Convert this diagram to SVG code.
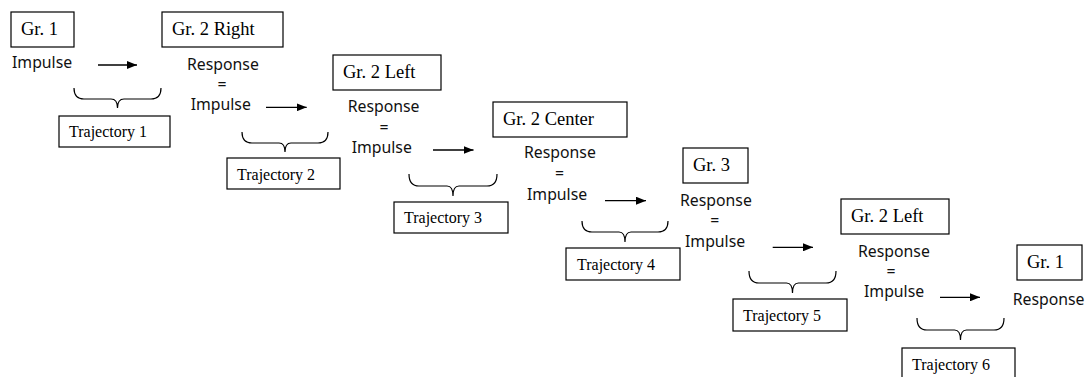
<svg xmlns="http://www.w3.org/2000/svg" width="1088" height="377" viewBox="0 0 1088 377">
<style>
.box{fill:#fff;stroke:#000;stroke-width:1.2}
.gr{font-family:"Liberation Serif",serif;font-size:18.5px;fill:#000}
.tr{font-family:"Liberation Serif",serif;font-size:16px;fill:#000}
.sn{font-family:"Noto Sans",sans-serif;font-size:15.8px;fill:#111}
.eq{font-family:"Noto Sans",sans-serif;font-size:15.8px;fill:#111;text-anchor:middle}
.arr{stroke:#000;stroke-width:1.3;fill:none;marker-end:url(#ah)}
.br{stroke:#000;stroke-width:1.2;fill:none}
</style>
<defs>
<marker id="ah" viewBox="0 0 10 8" refX="10" refY="4" markerWidth="10" markerHeight="8" markerUnits="userSpaceOnUse" orient="auto">
<path d="M0,0 L10,4 L0,8 z" fill="#000"/>
</marker>
</defs>
<rect width="1088" height="377" fill="#fff"/>
<g id="n1"><rect class="box" x="11" y="12" width="63" height="35"/><text class="gr" x="21" y="35">Gr. 1</text><text class="sn" x="12" y="68">Impulse</text></g>
<g id="n2"><rect class="box" x="162" y="12" width="121" height="35"/><text class="gr" x="172" y="35">Gr. 2 Right</text><text class="sn" x="187" y="70">Response</text><text class="eq" x="222" y="90">=</text><text class="sn" x="190.7" y="110">Impulse</text></g>
<g id="n3"><rect class="box" x="333" y="55" width="108" height="35"/><text class="gr" x="343" y="78">Gr. 2 Left</text><text class="sn" x="347.7" y="112">Response</text><text class="eq" x="384" y="132.5">=</text><text class="sn" x="351.7" y="153">Impulse</text></g>
<g id="n4"><rect class="box" x="493" y="102" width="134" height="35"/><text class="gr" x="503" y="125">Gr. 2 Center</text><text class="sn" x="524" y="158">Response</text><text class="eq" x="559.5" y="179">=</text><text class="sn" x="527" y="200">Impulse</text></g>
<g id="n5"><rect class="box" x="683" y="148" width="65" height="35"/><text class="gr" x="693" y="171">Gr. 3</text><text class="sn" x="680" y="205.7">Response</text><text class="eq" x="714.7" y="226">=</text><text class="sn" x="685" y="247">Impulse</text></g>
<g id="n6"><rect class="box" x="841" y="199" width="108" height="35"/><text class="gr" x="851" y="222">Gr. 2 Left</text><text class="sn" x="858" y="256.7">Response</text><text class="eq" x="891" y="277">=</text><text class="sn" x="864" y="297">Impulse</text></g>
<g id="n7"><rect class="box" x="1017" y="245" width="65" height="35"/><text class="gr" x="1027" y="268">Gr. 1</text><text class="sn" x="1012.7" y="305">Response</text></g>
<g id="t1"><rect class="box" x="59" y="116" width="111" height="31"/><text class="tr" x="69" y="137">Trajectory 1</text></g>
<g id="t2"><rect class="box" x="227" y="158" width="113" height="31"/><text class="tr" x="237" y="179.5">Trajectory 2</text></g>
<g id="t3"><rect class="box" x="394" y="202" width="114" height="31"/><text class="tr" x="404" y="223">Trajectory 3</text></g>
<g id="t4"><rect class="box" x="566" y="248" width="114" height="32"/><text class="tr" x="577" y="269.5">Trajectory 4</text></g>
<g id="t5"><rect class="box" x="733" y="299" width="114" height="32"/><text class="tr" x="743" y="320.5">Trajectory 5</text></g>
<g id="t6"><rect class="box" x="902" y="348" width="113" height="32"/><text class="tr" x="912" y="369.5">Trajectory 6</text></g>
<g id="connectors">
<line class="arr" x1="98" y1="65" x2="137" y2="65"/>
<line class="arr" x1="266" y1="107.3" x2="306.7" y2="107.3"/>
<line class="arr" x1="433" y1="150" x2="473.5" y2="150"/>
<line class="arr" x1="605" y1="200.7" x2="646" y2="200.7"/>
<line class="arr" x1="772.7" y1="247.3" x2="813" y2="247.3"/>
<line class="arr" x1="940" y1="297.3" x2="980" y2="297.3"/>
<path class="br" d="M74,88 Q74,99 84,99 L111,99 Q117.5,99 117.5,108 Q117.5,99 124,99 L151,99 Q161,99 161,88"/>
<path class="br" d="M242,132 Q242,143 252,143 L279,143 Q285,143 285,152 Q285,143 291,143 L318,143 Q328,143 328,132"/>
<path class="br" d="M409,174 Q409,186 419,186 L447,186 Q453,186 453,196 Q453,186 459,186 L487,186 Q497,186 497,174"/>
<path class="br" d="M582,221 Q582,232 592,232 L619,232 Q625,232 625,242 Q625,232 631,232 L658,232 Q668,232 668,221"/>
<path class="br" d="M749,271 Q749,283 759,283 L786.5,283 Q792.5,283 792.5,293 Q792.5,283 798.5,283 L826,283 Q836,283 836,271"/>
<path class="br" d="M917,318 Q917,330 927,330 L954.5,330 Q960.5,330 960.5,340 Q960.5,330 966.5,330 L994,330 Q1004,330 1004,318"/>
</g>
</svg>
